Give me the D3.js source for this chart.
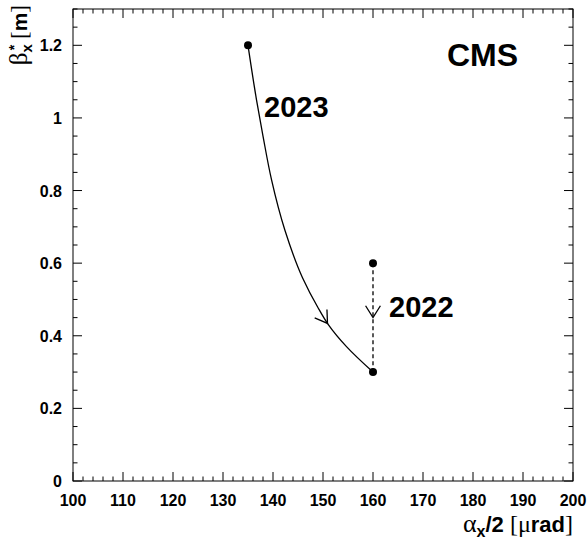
<!DOCTYPE html>
<html>
<head>
<meta charset="utf-8">
<script src="https://cdn.jsdelivr.net/npm/d3@7"></script>
<style>
  body { margin: 0; background: #fff; }
  svg { display: block; }
</style>
</head>
<body>
<script>
// beta* vs half crossing angle, CMS levelling paths

const width = 587, height = 544;
const margin = {top: 9, right: 14, bottom: 63, left: 73};

// 2023 levelling path
const path2023X = [135, 136.7, 138.0, 139.7, 142.4, 145.9, 148.9, 151.1, 154.7, 160];
const path2023Y = [1.2, 1.05, 0.95, 0.83, 0.69, 0.56, 0.48, 0.43, 0.37, 0.3];

// 2022: fixed angle, beta* 0.6 -> 0.3
const path2022X = [160, 160];
const path2022Y = [0.6, 0.3];

const xTicks = [100, 110, 120, 130, 140, 150, 160, 170, 180, 190, 200];
const yTicks = [0, 0.2, 0.4, 0.6, 0.8, 1, 1.2];

const font = "'Liberation Sans', Arial, Helvetica, sans-serif";
const serif = "'Liberation Serif', 'Times New Roman', serif";

const innerW = width - margin.left - margin.right;
const innerH = height - margin.top - margin.bottom;

const svg = d3.select("body").append("svg")
  .attr("width", width)
  .attr("height", height);

const g = svg.append("g")
  .attr("transform", "translate(" + margin.left + "," + margin.top + ")");

const x = d3.scaleLinear().domain([100, 200]).range([0, innerW]);
const y = d3.scaleLinear().domain([0, 1.3]).range([innerH, 0]);

// frame
g.append("rect")
  .attr("width", innerW).attr("height", innerH)
  .attr("fill", "none").attr("stroke", "#000").attr("stroke-width", 1);

// ticks on all four sides, ROOT style
const xMinor = d3.range(100, 200.01, 2);
const yMinor = d3.range(0, 1.3001, 0.05);
const isMajorX = v => Math.abs(v % 10) < 1e-6;
const isMajorY = v => Math.abs(Math.round(v * 5) - v * 5) < 1e-6;

const ticks = g.append("g").attr("stroke", "#000").attr("stroke-width", 1);
xMinor.forEach(v => {
  const len = isMajorX(v) ? 9 : 4.5;
  ticks.append("line").attr("x1", x(v)).attr("x2", x(v)).attr("y1", innerH).attr("y2", innerH - len);
  ticks.append("line").attr("x1", x(v)).attr("x2", x(v)).attr("y1", 0).attr("y2", len);
});
yMinor.forEach(v => {
  const len = isMajorY(v) ? 9 : 4.5;
  ticks.append("line").attr("y1", y(v)).attr("y2", y(v)).attr("x1", 0).attr("x2", len);
  ticks.append("line").attr("y1", y(v)).attr("y2", y(v)).attr("x1", innerW).attr("x2", innerW - len);
});

// tick labels
g.selectAll(".xlab").data(xTicks).join("text")
  .attr("class", "xlab")
  .attr("x", d => x(d)).attr("y", innerH + 25)
  .attr("text-anchor", "middle")
  .style("font-family", font).style("font-weight", "bold").style("font-size", "16px")
  .text(d => d);

g.selectAll(".ylab").data(yTicks).join("text")
  .attr("class", "ylab")
  .attr("x", -11).attr("y", d => y(d) + 6)
  .attr("text-anchor", "end")
  .style("font-family", font).style("font-weight", "bold").style("font-size", "16px")
  .text(d => d);

// x axis title
const xt = svg.append("text")
  .attr("x", margin.left + innerW).attr("y", 532)
  .attr("text-anchor", "end")
  .style("font-family", font).style("font-size", "22px");
xt.append("tspan").style("font-family", serif).style("font-size", "26px").text("α");
xt.append("tspan").attr("dy", 5).style("font-weight", "bold").style("font-size", "16px").text("x");
xt.append("tspan").attr("dy", -5).style("font-weight", "bold").text("/2 ");
xt.append("tspan").style("font-family", serif).style("font-size", "24px").text("[μ");
xt.append("tspan").style("font-weight", "bold").text("rad");
xt.append("tspan").style("font-family", serif).style("font-size", "24px").text("]");

// y axis title
const yt = svg.append("text")
  .attr("transform", "translate(27,5) rotate(-90)")
  .attr("text-anchor", "end")
  .style("font-family", font).style("font-size", "21px");
yt.append("tspan").style("font-family", serif).style("font-size", "25px").text("β");
yt.append("tspan").attr("dy", 5).style("font-weight", "bold").style("font-size", "15px").text("x");
yt.append("tspan").attr("dx", -6).attr("dy", -13).style("font-weight", "bold").style("font-size", "14px").text("*");
yt.append("tspan").attr("dy", 8).style("font-family", serif).style("font-size", "23px").text(" [");
yt.append("tspan").style("font-weight", "bold").text("m");
yt.append("tspan").style("font-family", serif).style("font-size", "23px").text("]");

// 2023 curve
const pts2023 = path2023X.map((v, i) => [v, path2023Y[i]]);
const line = d3.line().x(d => x(d[0])).y(d => y(d[1])).curve(d3.curveMonotoneY);
const curve = g.append("path")
  .datum(pts2023)
  .attr("d", line)
  .attr("fill", "none").attr("stroke", "#000").attr("stroke-width", 1.3);

// 2022 dashed segment
const pts2022 = path2022X.map((v, i) => [v, path2022Y[i]]);
g.append("path")
  .datum(pts2022)
  .attr("d", d3.line().x(d => x(d[0])).y(d => y(d[1])))
  .attr("fill", "none").attr("stroke", "#000").attr("stroke-width", 1.3)
  .attr("stroke-dasharray", "4,3");

// open arrow head at (px,py), pointing along (dx,dy)
function arrowHead(px, py, dx, dy) {
  const n = Math.hypot(dx, dy), ux = dx / n, uy = dy / n;
  const L = 14, a = 32 * Math.PI / 180;
  const w = s => {
    const c = Math.cos(s * a), sn = Math.sin(s * a);
    const bx = -ux, by = -uy;
    return [px + L * (bx * c - by * sn), py + L * (bx * sn + by * c)];
  };
  const p1 = w(1), p2 = w(-1);
  g.append("path")
    .attr("d", "M" + p1 + "L" + [px, py] + "L" + p2)
    .attr("fill", "none").attr("stroke", "#000").attr("stroke-width", 1.3);
}

// arrow along the 2023 curve near x = 150.9
const node = curve.node();
const total = node.getTotalLength();
let lo = 0, hi = total;
for (let k = 0; k < 40; k++) {
  const mid = (lo + hi) / 2;
  if (node.getPointAtLength(mid).x < x(150.9)) lo = mid; else hi = mid;
}
const pA = node.getPointAtLength(lo), pB = node.getPointAtLength(lo + 2), pC = node.getPointAtLength(lo - 2);
arrowHead(pA.x, pA.y, pB.x - pC.x, pB.y - pC.y);

// arrow on the 2022 segment
arrowHead(x(160), y(0.45), 0, 1);

// markers
g.selectAll(".dot").data([pts2023[0], pts2023[pts2023.length - 1], pts2022[0]]).join("circle")
  .attr("class", "dot")
  .attr("cx", d => x(d[0])).attr("cy", d => y(d[1])).attr("r", 4)
  .attr("fill", "#000");

// labels
const lab = (t, px, py, size) => svg.append("text")
  .attr("x", px).attr("y", py)
  .style("font-family", font).style("font-weight", "bold").style("font-size", size + "px")
  .text(t);
lab("2023", 264, 117, 29);
lab("2022", 389, 317, 29);
lab("CMS", 447, 66, 32);
</script>
</body>
</html>
